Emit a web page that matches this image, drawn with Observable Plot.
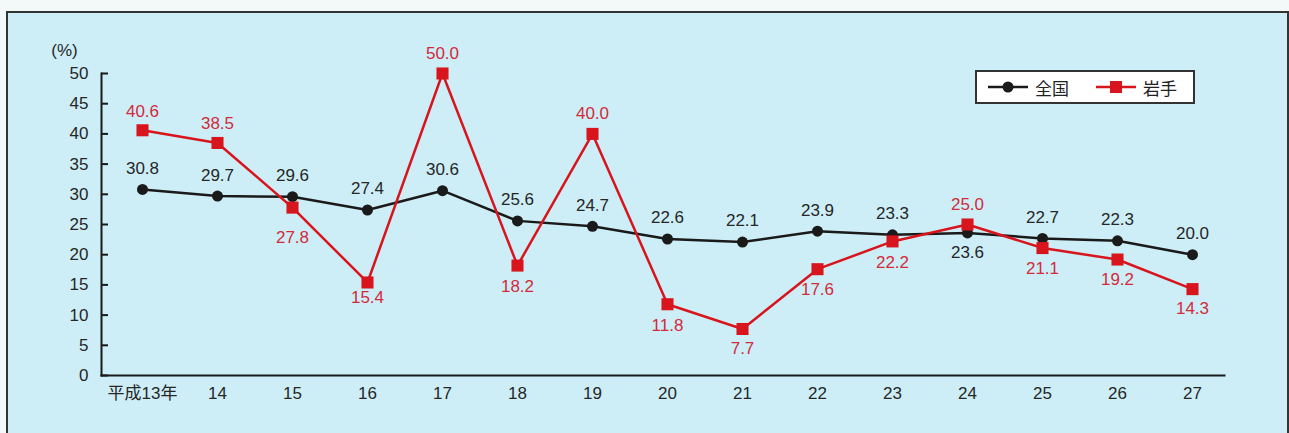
<!DOCTYPE html>
<html><head><meta charset="utf-8">
<script src="https://cdn.jsdelivr.net/npm/d3@7"></script>
<script src="https://cdn.jsdelivr.net/npm/@observablehq/plot@0.6"></script>
<style>
body{margin:0;background:#f3f8f9;}
#wrap{position:relative;width:1289px;height:433px;overflow:hidden;font-family:"Liberation Sans","Noto Sans CJK JP",sans-serif;}
#bg{position:absolute;left:6px;top:11px;width:1279px;height:440px;background:#cdeef7;border:2px solid #333;}
#chart{position:absolute;left:0;top:0;}
#legend{position:absolute;left:975px;top:70px;width:220px;height:34px;background:#fff;border:2px solid #333;box-sizing:border-box;display:flex;align-items:center;font-family:"Noto Sans CJK JP",sans-serif;font-size:17px;color:#222;}
#legend .item{display:flex;align-items:center;margin-left:10px;}
#legend .item span{margin-left:6px;}
</style>
</head><body>
<div id="wrap"><div id="bg"></div><div id="chart"></div><div id="legend"></div></div>
<script>
const years = ["平成13年","14","15","16","17","18","19","20","21","22","23","24","25","26","27"];
const zenkoku = [30.8,29.7,29.6,27.4,30.6,25.6,24.7,22.6,22.1,23.9,23.3,23.6,22.7,22.3,20.0];
const iwate = [40.6,38.5,27.8,15.4,50.0,18.2,40.0,11.8,7.7,17.6,22.2,25.0,21.1,19.2,14.3];
const yTicks = [0,5,10,15,20,25,30,35,40,45,50];
const seriesNames = ["全国","岩手"];
// label placement offsets (px) — layout only
const zenkokuLabelDy = [-21,-21,-21,-21,-21,-21,-21,-21,-21,-21,-21,20,-21,-21,-21];
const iwateLabelDy = [-19,-19,30,15,-20,21,-20,21,20,20,21,-20,20,20,19];

const BLACK = "#1a1a1a", RED = "#d8141c", REDTEXT = "#d32a3a", TEXT = "#262626";
const data = years.map((y,i)=>({year:y, zenkoku:zenkoku[i], iwate:iwate[i], zdy:zenkokuLabelDy[i], idy:iwateLabelDy[i]}));

const labelMarks = (key, dyKey, color) => data.map(d => Plot.text([d], {x:"year", y:key, text:v=>v[key].toFixed(1), dy:d[dyKey], fill:color, fontSize:17, textAnchor:"middle", lineAnchor:"middle"}));

const chart = Plot.plot({
  width:1289, height:433,
  marginLeft:101, marginRight:65, marginTop:73, marginBottom:58,
  style:{background:"transparent", fontFamily:"'Liberation Sans','Noto Sans CJK JP',sans-serif", fontSize:"17px", color:TEXT},
  x:{type:"point", domain:years, range:[140,1194], padding:0},
  y:{domain:[0,50]},
  marks:[
    Plot.frame({anchor:"left", stroke:BLACK, strokeWidth:2}),
    Plot.frame({anchor:"bottom", stroke:BLACK, strokeWidth:2}),
    Plot.axisY({ticks:yTicks, tickSize:-7, tickPadding:20, strokeWidth:2, stroke:BLACK, label:null, fontSize:17, fill:TEXT}),
    Plot.axisX({tickSize:0, tickPadding:11, label:null, fontSize:17, fill:TEXT}),
    Plot.text(["(%)"], {frameAnchor:"top-left", dx:-37, dy:-30, fontSize:17, fill:TEXT, textAnchor:"middle"}),
    Plot.line(data, {x:"year", y:"zenkoku", stroke:BLACK, strokeWidth:2.5}),
    Plot.dot(data, {x:"year", y:"zenkoku", r:5.5, fill:BLACK}),
    Plot.line(data, {x:"year", y:"iwate", stroke:RED, strokeWidth:2.5}),
    Plot.dot(data, {x:"year", y:"iwate", symbol:"square", r:6.8, fill:RED}),
    ...labelMarks("zenkoku","zdy",TEXT),
    ...labelMarks("iwate","idy",REDTEXT)
  ]
});
document.getElementById("chart").appendChild(chart);

const legend = document.getElementById("legend");
const sw = [
  `<svg width="42" height="14"><line x1="1" y1="7" x2="41" y2="7" stroke="${BLACK}" stroke-width="2.5"/><circle cx="21" cy="7" r="5.5" fill="${BLACK}"/></svg>`,
  `<svg width="42" height="14"><line x1="1" y1="7" x2="41" y2="7" stroke="${RED}" stroke-width="2.5"/><rect x="15" y="1" width="12" height="12" fill="${RED}"/></svg>`
];
seriesNames.forEach((n,i)=>{
  const it = document.createElement("div");
  it.className="item";
  if(i===1) it.style.marginLeft="26px";
  it.innerHTML = sw[i] + `<span>${n}</span>`;
  legend.appendChild(it);
});
</script>
</body></html>
